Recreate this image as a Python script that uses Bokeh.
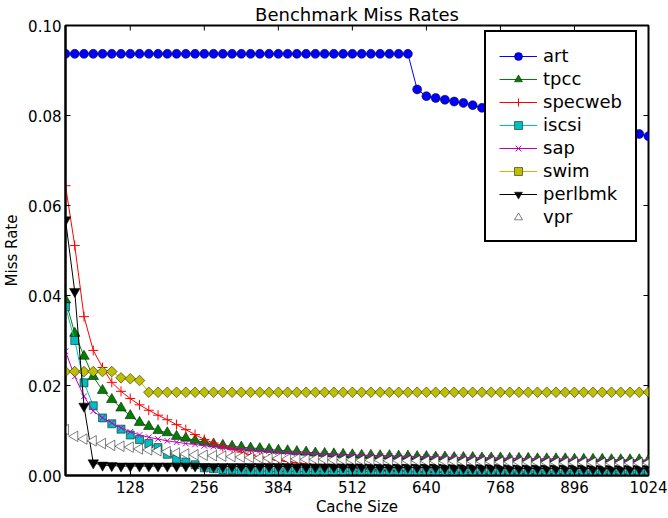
import math
from bokeh.plotting import figure
from bokeh.models import Range1d, FixedTicker, Legend, LegendItem, NumeralTickFormatter
from bokeh.embed import file_html
from bokeh.resources import INLINE

cache_sizes = [16, 32, 48, 64, 80, 96, 112, 128, 144, 160, 176, 192, 208, 224, 240, 256,
               272, 288, 304, 320, 336, 352, 368, 384, 400, 416, 432, 448, 464, 480, 496, 512,
               528, 544, 560, 576, 592, 608, 624, 640, 656, 672, 688, 704, 720, 736, 752, 768,
               784, 800, 816, 832, 848, 864, 880, 896, 912, 928, 944, 960, 976, 992, 1008, 1024]

art = [0.0937] * 38 + [0.0858, 0.0843, 0.0839, 0.0835, 0.0831, 0.0828, 0.0823, 0.0817, 0.0814,
                       0.0811, 0.0808, 0.0805, 0.0801, 0.0798, 0.0795, 0.0791, 0.0788, 0.0784,
                       0.0781, 0.0777, 0.0774, 0.0770, 0.0766, 0.0762, 0.0759, 0.0754]

tpcc = [0.0390, 0.0316, 0.0265, 0.0220, 0.0189, 0.0169, 0.0150, 0.0133, 0.0118, 0.0109, 0.0100,
        0.0095, 0.0087, 0.0083, 0.0078, 0.0074, 0.0070, 0.0067, 0.0065, 0.0063, 0.0061, 0.0060,
        0.0058, 0.0056, 0.0055, 0.0053, 0.0052, 0.0050, 0.0049, 0.0048, 0.0047, 0.0046,
        0.0045, 0.0045, 0.0044, 0.0044, 0.0043, 0.0043, 0.0042, 0.0042, 0.0041, 0.0041, 0.0040,
        0.0040, 0.0040, 0.0039, 0.0039, 0.0039, 0.0038, 0.0038, 0.0038, 0.0037, 0.0037, 0.0037,
        0.0037, 0.0036, 0.0036, 0.0036, 0.0036, 0.0035, 0.0035, 0.0035, 0.0035, 0.0034]

specweb = [0.0644, 0.0511, 0.0353, 0.0278, 0.0240, 0.0207, 0.0187, 0.0171, 0.0157, 0.0145, 0.0134,
           0.0124, 0.0113, 0.0102, 0.0091, 0.0080, 0.0072, 0.0064, 0.0058, 0.0052, 0.0046, 0.0041,
           0.0037, 0.0034, 0.0031, 0.0028, 0.0026, 0.0024, 0.0022, 0.0020, 0.0018, 0.0017,
           0.0015, 0.0014, 0.0012, 0.0011, 0.0010, 0.0009, 0.0008, 0.0008, 0.0007, 0.0007, 0.0006,
           0.0006, 0.0006, 0.0005, 0.0005, 0.0005, 0.0005, 0.0005, 0.0004, 0.0004, 0.0004, 0.0004,
           0.0004, 0.0004, 0.0004, 0.0003, 0.0003, 0.0003, 0.0003, 0.0003, 0.0003, 0.0003]

iscsi = [0.0375, 0.0300, 0.0206, 0.0155, 0.0128, 0.0115, 0.0103, 0.0090, 0.0080, 0.0071, 0.0062,
         0.0047, 0.0036, 0.0030, 0.0024, 0.0017, 0.0015, 0.0013, 0.0012, 0.0011, 0.0010, 0.0010,
         0.0009, 0.0009, 0.0009, 0.0009, 0.0009, 0.0009, 0.0009, 0.0009, 0.0009, 0.0009,
         0.0009, 0.0009, 0.0009, 0.0009, 0.0009, 0.0009, 0.0009, 0.0009, 0.0008, 0.0008, 0.0008,
         0.0008, 0.0008, 0.0008, 0.0008, 0.0008, 0.0008, 0.0008, 0.0008, 0.0008, 0.0008, 0.0008,
         0.0008, 0.0008, 0.0008, 0.0008, 0.0008, 0.0008, 0.0008, 0.0008, 0.0008, 0.0008]

sap = [0.0276, 0.0220, 0.0176, 0.0143, 0.0128, 0.0117, 0.0106, 0.0097, 0.0090, 0.0085, 0.0081,
       0.0077, 0.0074, 0.0071, 0.0069, 0.0066, 0.0064, 0.0062, 0.0060, 0.0058, 0.0057,
       0.0055, 0.0054, 0.0052, 0.0051, 0.0050, 0.0049, 0.0048, 0.0047, 0.0046, 0.0045,
       0.0045, 0.0044, 0.0044, 0.0043, 0.0043, 0.0042, 0.0042, 0.0041, 0.0041, 0.0041,
       0.0040, 0.0040, 0.0040, 0.0039, 0.0039, 0.0039, 0.0038, 0.0038, 0.0038, 0.0037,
       0.0037, 0.0036, 0.0036, 0.0036, 0.0035, 0.0035, 0.0035, 0.0034, 0.0034, 0.0034,
       0.0033, 0.0033, 0.0033]

swim = [0.0231, 0.0231, 0.0231, 0.0231, 0.0231, 0.0231, 0.0217, 0.0215, 0.0211] + [0.0185] * 55

perlbmk = [0.0568, 0.0409, 0.0154, 0.0028, 0.0023, 0.0022, 0.0021, 0.0021, 0.0021, 0.0021, 0.0021,
           0.0021, 0.0021, 0.0021, 0.0021, 0.0020, 0.0020, 0.0020, 0.0020, 0.0020, 0.0020, 0.0020,
           0.0020, 0.0020, 0.0020, 0.0019, 0.0019, 0.0019, 0.0019, 0.0019, 0.0019, 0.0019,
           0.0019, 0.0018, 0.0018, 0.0018, 0.0018, 0.0018, 0.0018, 0.0018, 0.0018, 0.0017, 0.0017,
           0.0017, 0.0017, 0.0017, 0.0017, 0.0017, 0.0016, 0.0016, 0.0016, 0.0016, 0.0016, 0.0016,
           0.0016, 0.0016, 0.0016, 0.0015, 0.0015, 0.0015, 0.0015, 0.0015, 0.0015, 0.0015]

vpr = [0.0102, 0.0087, 0.0081, 0.0077, 0.0071, 0.0067, 0.0065, 0.0063, 0.0059, 0.0057, 0.0055,
       0.0053, 0.0050, 0.0048, 0.0046, 0.0045, 0.0044, 0.0043, 0.0042, 0.0041, 0.0040, 0.0039,
       0.0038, 0.0038, 0.0037, 0.0037, 0.0036, 0.0036, 0.0036, 0.0035, 0.0035, 0.0035,
       0.0034, 0.0034, 0.0034, 0.0033, 0.0033, 0.0033, 0.0033, 0.0032, 0.0032, 0.0032, 0.0032,
       0.0031, 0.0031, 0.0031, 0.0031, 0.0030, 0.0030, 0.0030, 0.0030, 0.0030, 0.0029, 0.0029,
       0.0029, 0.0029, 0.0029, 0.0029, 0.0028, 0.0028, 0.0028, 0.0028, 0.0028, 0.0028]

x_ticks = [128, 256, 384, 512, 640, 768, 896, 1024]
y_ticks = [0.0, 0.02, 0.04, 0.06, 0.08, 0.10]
x_min, x_max = 16, 1024
y_min, y_max = 0.0, 0.1

FONT = "DejaVu Sans"

p = figure(width=668, height=518, output_backend="svg", toolbar_location=None,
           x_range=Range1d(x_min, x_max), y_range=Range1d(y_min, y_max),
           title="Benchmark Miss Rates",
           min_border_left=64, min_border_right=20, min_border_top=25, min_border_bottom=43)
p.title.text_font = FONT
p.title.text_font_size = "18px"
p.title.text_font_style = "normal"
p.title.text_color = "black"
p.title.align = "center"
p.title.standoff = 1
p.xgrid.visible = False
p.ygrid.visible = False
p.outline_line_color = "black"
p.outline_line_width = 2
p.background_fill_color = "white"

def style_axis(ax, ticks):
    ax.ticker = FixedTicker(ticks=ticks)
    ax.major_tick_in = 5
    ax.major_tick_out = 0
    ax.minor_tick_line_color = None
    ax.major_tick_line_color = "black"
    ax.major_tick_line_width = 1
    ax.axis_line_color = "black"
    ax.axis_line_width = 2
    ax.major_label_text_font = FONT
    ax.major_label_text_font_size = "15px"
    ax.major_label_text_color = "black"
    ax.axis_label_text_font = FONT
    ax.axis_label_text_font_size = "15px"
    ax.axis_label_text_font_style = "normal"
    ax.axis_label_text_color = "black"

style_axis(p.xaxis[0], x_ticks)
style_axis(p.yaxis[0], y_ticks)
p.xaxis[0].major_label_standoff = 5
p.yaxis[0].major_label_standoff = 4
p.xaxis[0].axis_label = "Cache Size"
p.yaxis[0].axis_label = "Miss Rate"
p.xaxis[0].axis_label_standoff = 2
p.yaxis[0].axis_label_standoff = 4
p.yaxis[0].formatter = NumeralTickFormatter(format="0.00")

# mirrored inward ticks on the top and right frame edges
p.ray(x=x_ticks, y=[y_max] * len(x_ticks), length=5, length_units="screen",
      angle=-math.pi / 2, line_color="black", line_width=1)
p.ray(x=[x_max] * len(y_ticks), y=y_ticks, length=5, length_units="screen",
      angle=math.pi, line_color="black", line_width=1)

series = [
    ("art", art, "#0000ff", dict(marker="circle", size=9, fill_color="#0000ff", line_color="black", line_width=0.5)),
    ("tpcc", tpcc, "#008000", dict(marker="triangle", size=10.5, fill_color="#008000", line_color="black", line_width=0.5)),
    ("specweb", specweb, "#ff0000", dict(marker="cross", size=10, line_color="#ff0000", line_width=1)),
    ("iscsi", iscsi, "#00bfbf", dict(marker="square", size=8, fill_color="#00bfbf", line_color="black", line_width=0.5)),
    ("sap", sap, "#bf00bf", dict(marker="x", size=8, line_color="#bf00bf", line_width=1)),
    ("swim", swim, "#bfbf00", dict(marker="square", size=7.5, angle=math.pi / 4, fill_color="#bfbf00", line_color="black", line_width=0.5)),
    ("perlbmk", perlbmk, "#000000", dict(marker="inverted_triangle", size=10.5, fill_color="black", line_color="black", line_width=0.5)),
    ("vpr", vpr, "#ffffff", dict(marker="triangle", size=10.5, angle=math.pi / 2, fill_color="white", line_color="black", line_width=0.5)),
]

items = []
for name, ys, color, mk in series:
    r1 = p.line(cache_sizes, ys, line_color=color, line_width=1)
    r2 = p.scatter(cache_sizes, ys, **mk)
    items.append(LegendItem(label=name, renderers=[r1, r2]))

legend = Legend(items=items, location=(419, 233))
legend.border_line_color = "black"
legend.border_line_width = 2
legend.border_line_alpha = 1.0
legend.background_fill_color = "white"
legend.background_fill_alpha = 1.0
legend.label_text_font = FONT
legend.label_text_font_size = "18px"
legend.label_text_color = "black"
legend.glyph_width = 38
legend.glyph_height = 20
legend.label_height = 20
legend.spacing = 2
legend.padding = 13
legend.margin = 0
legend.label_standoff = 6
p.add_layout(legend)

open("out.html", "w").write(file_html(p, INLINE))
